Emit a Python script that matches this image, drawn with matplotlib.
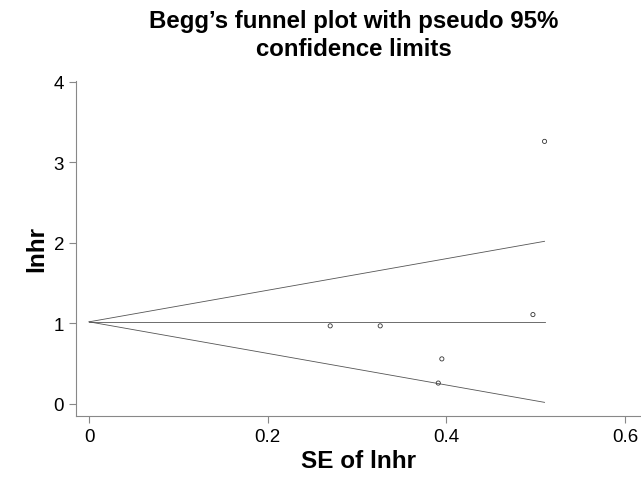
import numpy as np
import matplotlib
matplotlib.use("Agg")
from matplotlib import pyplot as plt

plt.rcParams['font.family'] = ['Liberation Sans', 'DejaVu Sans']

# study data
se = [0.270, 0.326, 0.395, 0.391, 0.497, 0.510]
lnhr = [0.97, 0.97, 0.56, 0.26, 1.11, 3.26]
pooled = 1.02
se_max = 0.510

fig = plt.figure(figsize=(6.41, 4.85), dpi=100)
ax = fig.add_axes([0.1186, 0.1402, 0.8814, 0.6908])

# pseudo 95% limits
s = np.array([0, se_max])
ax.plot(s, pooled + 1.96 * s, color="#555555", lw=0.6)
ax.plot(s, pooled - 1.96 * s, color="#555555", lw=0.6)
ax.plot(s, [pooled, pooled], color="#555555", lw=0.6)

ax.scatter(se, lnhr, s=9, facecolors="none", edgecolors="#333333", linewidths=0.6, zorder=3)

ax.set_xlim(-0.0146, 0.618)
ax.set_ylim(-0.149, 4.01)
ax.set_xticks([0, 0.2, 0.4, 0.6])
ax.set_xticklabels(["0", "0.2", "0.4", "0.6"])
ax.set_yticks([0, 1, 2, 3, 4])

for side in ["top", "right"]:
    ax.spines[side].set_visible(False)
for side in ["left", "bottom"]:
    ax.spines[side].set_color("#888888")
    ax.spines[side].set_linewidth(0.8)
ax.tick_params(colors="#888888", labelcolor="black", labelsize=13.5, length=5, width=0.8)

ax.set_xlabel("SE of lnhr", fontsize=17.5, fontweight="bold", labelpad=3)
ax.set_ylabel("lnhr", fontsize=17.5, fontweight="bold", labelpad=4)
fig.text(0.552, 1 - 10 / 485, "Begg\u2019s funnel plot with pseudo 95%\nconfidence limits",
         fontsize=17.3, fontweight="bold", ha="center", va="top", linespacing=1.3)

fig.savefig("out.png", dpi=100)
